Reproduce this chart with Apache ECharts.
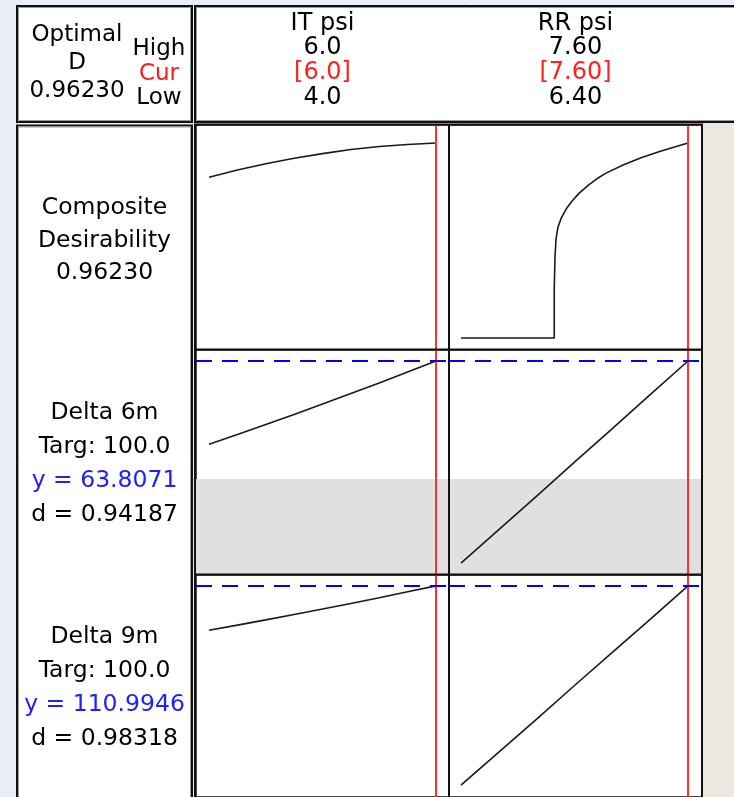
<!DOCTYPE html>
<html>
<head>
<meta charset="utf-8">
<script src="https://cdn.jsdelivr.net/npm/echarts@6/dist/echarts.min.js"></script>
<style>
  html, body { margin: 0; padding: 0; background: #e9eef6; }
  #chart { width: 734px; height: 797px; }
</style>
</head>
<body>
<div id="chart"></div>
<script>
// ---- Factor settings ----
const factorNames = ['IT psi', 'RR psi'];
const factorHigh = ['6.0', '7.60'];
const factorCurText = ['[6.0]', '[7.60]'];
const factorLow = ['4.0', '6.40'];
const factorCurrent = [6.0, 7.60];

// ---- Optimal summary ----
const optimalLines = ['Optimal', 'D', '0.96230'];
const levelLines = ['High', 'Cur', 'Low'];

// ---- Response rows ----
const responseLines = [
  ['Composite', 'Desirability', '0.96230'],
  ['Delta 6m', 'Targ: 100.0', 'y = 63.8071', 'd = 0.94187'],
  ['Delta 9m', 'Targ: 100.0', 'y = 110.9946', 'd = 0.98318']
];
const responseCurrent = [0.96230, 63.8071, 110.9946];
const delta6mLowerBound = 52.0;

// ---- Traces over IT psi (RR psi held at 7.60) ----
const itPoints = [4.0, 4.25, 4.5, 4.75, 5.0, 5.25, 5.5, 5.75, 6.0];
const compositeVsIT = [0.793, 0.829, 0.860, 0.887, 0.910, 0.930, 0.945, 0.955, 0.9623];
const delta6mVsIT = [55.48, 56.45, 57.45, 58.45, 59.50, 60.55, 61.60, 62.70, 63.8071];
const delta9mVsIT = [106.50, 107.02, 107.55, 108.10, 108.65, 109.22, 109.80, 110.40, 110.9946];

// ---- Traces over RR psi (IT psi held at 6.0) ----
const rrCompositePoints = [6.40, 6.60, 6.80, 6.893, 6.893, 6.897, 6.902, 6.912, 6.930, 6.955, 6.985, 7.025, 7.077, 7.12, 7.169, 7.26, 7.352, 7.45, 7.52, 7.60];
const compositeVsRR = [0, 0, 0, 0, 0.247, 0.40, 0.485, 0.545, 0.592, 0.635, 0.674, 0.715, 0.757, 0.787, 0.815, 0.855, 0.889, 0.920, 0.940, 0.9623];
const rrPoints = [6.40, 6.60, 6.80, 7.00, 7.20, 7.40, 7.60];
const delta6mVsRR = [43.60, 46.95, 50.30, 53.70, 57.05, 60.45, 63.8071];
const delta9mVsRR = [90.80, 94.15, 97.50, 100.90, 104.25, 107.60, 110.9946];

// ---- Layout ----
const plotLeft = 196, colW = 253, plotTop = 125, rowH = 225;
const xRanges = [[3.885, 6.115], [6.3366, 7.674]];
const yRanges = [[-0.0594, 1.0512], [42.4071, 64.9071], [89.6, 112.1]];
const FONT = '"DejaVu Sans", Verdana, sans-serif';

const pair = (xs, ys) => xs.map((x, i) => [x, ys[i]]);
const traces = [
  [pair(itPoints, compositeVsIT), pair(rrCompositePoints, compositeVsRR)],
  [pair(itPoints, delta6mVsIT), pair(rrPoints, delta6mVsRR)],
  [pair(itPoints, delta9mVsIT), pair(rrPoints, delta9mVsRR)]
];

const grids = [], xAxes = [], yAxes = [], series = [];
for (let r = 0; r < 3; r++) {
  for (let c = 0; c < 2; c++) {
    const i = r * 2 + c;
    grids.push({
      left: plotLeft + c * colW, top: plotTop + r * rowH, width: colW, height: rowH,
      show: true, backgroundColor: '#ffffff', borderColor: '#111', borderWidth: 1.5
    });
    xAxes.push({
      type: 'value', gridIndex: i, min: xRanges[c][0], max: xRanges[c][1],
      axisLine: { show: false }, axisTick: { show: false }, axisLabel: { show: false }, splitLine: { show: false }
    });
    yAxes.push({
      type: 'value', gridIndex: i, min: yRanges[r][0], max: yRanges[r][1],
      axisLine: { show: false }, axisTick: { show: false }, axisLabel: { show: false }, splitLine: { show: false }
    });
    const markLineData = [{ xAxis: factorCurrent[c], lineStyle: { color: '#ff3030', width: 2, type: 'solid' } }];
    if (r > 0) {
      markLineData.push({ yAxis: responseCurrent[r], lineStyle: { color: '#0000ff', width: 2, type: [16, 10] } });
    }
    const s = {
      type: 'line', xAxisIndex: i, yAxisIndex: i, data: traces[r][c],
      showSymbol: false, symbol: 'none', animation: false, silent: true,
      lineStyle: { color: '#1a1a1a', width: 1.6 },
      markLine: { symbol: 'none', silent: true, animation: false, label: { show: false }, data: markLineData }
    };
    if (r === 1) {
      s.markArea = {
        silent: true, animation: false,
        itemStyle: { color: '#e0e0e0' },
        data: [[{ yAxis: yRanges[1][0] }, { yAxis: delta6mLowerBound }]]
      };
    }
    series.push(s);
  }
}

// ---- Frames, separators and text ----
const graphic = [];
function frame(x, y, w, h) {
  graphic.push({ type: 'rect', z: -10, shape: { x, y, width: w, height: h }, style: { fill: '#fff', stroke: '#111', lineWidth: 2 } });
  graphic.push({ type: 'rect', z: -9, shape: { x: x + 1.5, y: y + 1.5, width: w - 3, height: h - 3 }, style: { fill: null, stroke: '#9a9a9a', lineWidth: 1 } });
}
function rule(x1, y1, x2, y2) {
  graphic.push({ type: 'line', z: 45, shape: { x1, y1, x2, y2 }, style: { stroke: '#111', lineWidth: 2 } });
}
function label(text, x, y, size, color) {
  graphic.push({ type: 'text', z: 50, x, y, style: { text, fill: color || '#000', font: size + 'px ' + FONT, align: 'center', verticalAlign: 'middle' } });
}
graphic.push({ type: 'rect', z: -20, shape: { x: 702, y: 123, width: 40, height: 700 }, style: { fill: '#ece9e0' } });
frame(17, 6, 175, 116);
frame(195, 6, 600, 116);
frame(17, 125.5, 175, 700);
graphic.push({ type: 'rect', z: 45, shape: { x: 195, y: 124.5, width: 507, height: 700 }, style: { fill: null, stroke: '#111', lineWidth: 2 } });
rule(449, 125, 449, 800);
rule(195, 349.5, 702, 349.5);
rule(195, 574.5, 702, 574.5);

optimalLines.forEach((t, k) => label(t, 77, [35.5, 63.5, 91.5][k], 23));
levelLines.forEach((t, k) => label(t, 159, [49.5, 74, 98.5][k], 23, k === 1 ? '#ff1a1a' : '#000'));
factorNames.forEach((name, c) => {
  const cx = plotLeft + c * colW + colW / 2;
  label(name, cx, 23.5, 24);
  label(factorHigh[c], cx, 48, 24);
  label(factorCurText[c], cx, 73, 24, '#ff2020');
  label(factorLow[c], cx, 98, 24);
});
const rowTextY = [[208, 241, 273], [413, 447, 481, 515], [637, 671, 705, 739]];
responseLines.forEach((lines, r) => {
  lines.forEach((t, k) => label(t, 104.5, rowTextY[r][k], 23.5, t.startsWith('y =') ? '#2020ff' : '#000'));
});

const chart = echarts.init(document.getElementById('chart'), null, { renderer: 'canvas' });
chart.setOption({
  animation: false,
  backgroundColor: '#e9eef6',
  grid: grids, xAxis: xAxes, yAxis: yAxes, series, graphic
});
</script>
</body>
</html>
